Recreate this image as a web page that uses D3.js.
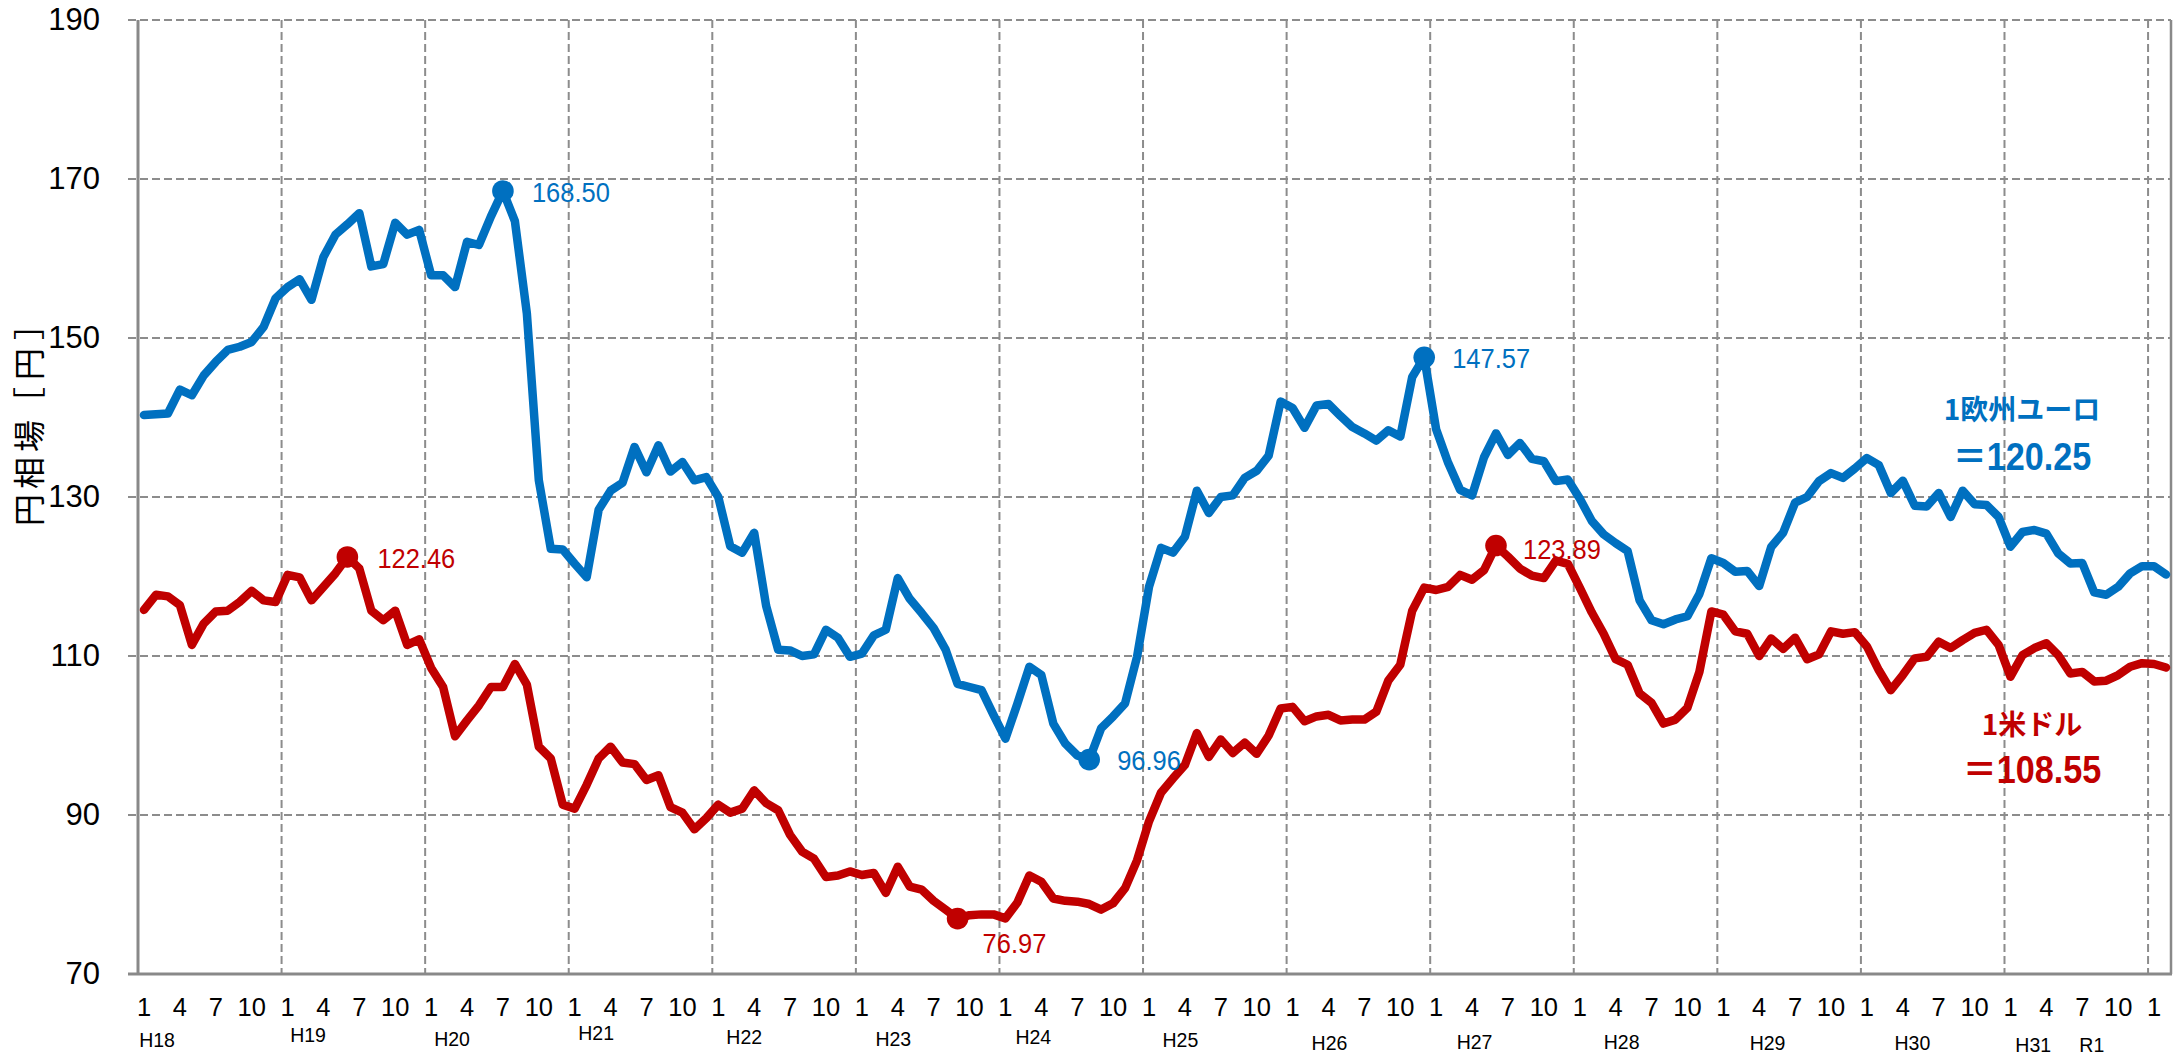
<!DOCTYPE html>
<html>
<head>
<meta charset="utf-8">
<script src="https://cdn.jsdelivr.net/npm/d3@7/dist/d3.min.js"></script>
<style>
  html, body { margin: 0; padding: 0; background: #ffffff; }
  svg { display: block; }
</style>
</head>
<body>
<svg id="chart" width="2179" height="1060"></svg>
<script>
// ---- data: monthly yen rates, Jan 2006 (H18) to Feb 2020 ----
const startYear = 2006;
const yearLabels = ["H18", "H19", "H20", "H21", "H22", "H23", "H24", "H25", "H26", "H27", "H28", "H29", "H30", "H31", "R1"];
const monthTicks = [1, 4, 7, 10];
const yTicks = [70, 90, 110, 130, 150, 170, 190];

// 1 euro in yen
const eur = [
  140.3, 140.4, 140.5, 143.5, 142.8, 145.3, 147.0, 148.5, 148.9, 149.5, 151.4, 155.0,
  156.4, 157.4, 154.8, 160.2, 163.0, 164.3, 165.7, 159.0, 159.3, 164.5, 163.0, 163.6,
  157.9, 157.9, 156.4, 162.1, 161.7, 165.3, 168.50, 164.7, 153.1, 132.1, 123.5, 123.4,
  121.6, 119.9, 128.4, 130.8, 131.8, 136.3, 133.1, 136.5, 133.2, 134.4, 132.1, 132.5,
  130.0, 123.8, 123.0, 125.5, 116.3, 110.8, 110.7, 110.0, 110.2, 113.3, 112.3, 109.9,
  110.3, 112.6, 113.3, 119.8, 117.2, 115.4, 113.5, 110.8, 106.5, 106.1, 105.7, 102.6,
  99.6, 104.0, 108.65, 107.6, 101.5, 99.0, 97.5, 96.96, 100.9, 102.4, 104.05, 109.9,
  118.7, 123.6, 123.0, 125.0, 130.8, 128.0, 130.0, 130.2, 132.4, 133.3, 135.2, 142.0,
  141.2, 138.7, 141.5, 141.7, 140.2, 138.8, 138.0, 137.1, 138.4, 137.6, 145.1, 147.57,
  138.5, 134.3, 130.9, 130.2, 135.0, 138.0, 135.3, 136.8, 134.8, 134.5, 132.0, 132.2,
  129.8, 127.0, 125.3, 124.2, 123.2, 117.0, 114.5, 114.0, 114.6, 115.0, 117.8, 122.3,
  121.7, 120.6, 120.7, 118.8, 123.7, 125.5, 129.3, 130.0, 132.0, 133.0, 132.4, 133.6,
  134.9, 134.0, 130.5, 132.05, 128.9, 128.8, 130.5, 127.5, 130.8, 129.1, 129.0, 127.5,
  123.75, 125.6, 125.85, 125.4, 122.9, 121.65, 121.7, 118.0, 117.7, 118.7, 120.4, 121.3,
  121.3, 120.25
];

// 1 US dollar in yen
const usd = [
  115.8, 117.7, 117.5, 116.4, 111.4, 114.1, 115.6, 115.7, 116.8, 118.2, 117.0, 116.8,
  120.2, 119.9, 117.0, 118.7, 120.4, 122.46, 121.0, 115.7, 114.5, 115.7, 111.4, 112.1,
  108.5, 106.1, 99.9, 101.9, 103.8, 106.1, 106.1, 109.0, 106.4, 98.6, 97.1, 91.3,
  90.8, 93.8, 97.1, 98.6, 96.6, 96.4, 94.4, 95.0, 91.0, 90.3, 88.2, 89.6,
  91.3, 90.3, 90.8, 93.1, 91.5, 90.6, 87.5, 85.4, 84.5, 82.2, 82.4, 82.9,
  82.45, 82.7, 80.2, 83.5, 81.0, 80.6, 79.2, 78.1, 76.97, 77.4, 77.5, 77.5,
  77.0, 79.0, 82.4, 81.6, 79.5, 79.2, 79.1, 78.8, 78.1, 78.9, 80.8, 84.3,
  89.2, 92.8, 94.6, 96.3, 100.3, 97.3, 99.5, 97.8, 99.1, 97.7, 100.0, 103.4,
  103.6, 101.8, 102.4, 102.6, 101.9, 102.0, 102.0, 103.0, 106.9, 108.9, 115.7, 118.6,
  118.3, 118.7, 120.2, 119.6, 120.8, 123.89, 122.5, 121.0, 120.1, 119.8, 122.0, 121.6,
  118.6, 115.5, 112.8, 109.6, 108.9, 105.3, 104.1, 101.5, 102.0, 103.5, 108.0, 115.6,
  115.2, 113.1, 112.8, 110.0, 112.2, 110.9, 112.3, 109.6, 110.2, 113.1, 112.8, 113.0,
  111.2, 108.2, 105.7, 107.6, 109.7, 109.9, 111.8, 111.0, 112.0, 112.9, 113.3, 111.4,
  107.4, 110.1, 111.0, 111.6, 110.1, 107.8, 108.0, 106.8, 106.9, 107.6, 108.65, 109.1,
  109.0, 108.55
];

// highs and lows that carry a value label
const eurNoted = [168.50, 96.96, 147.57];
const usdNoted = [122.46, 76.97, 123.89];

const eurName = "1欧州ユーロ";
const usdName = "1米ドル";
const axisTitle = "円相場［円］";

// category for each month: {year, month}
const categories = eur.map((_, i) => ({ year: startYear + Math.floor(i / 12), month: (i % 12) + 1 }));

// ---- layout ----
const W = 2179, H = 1060;
const plot = { left: 138, right: 2172, top: 20, bottom: 974 };
const blue = "#0070C0", red = "#C00000";
const gridColor = "#8c8c8c", axisColor = "#898989";
const latin = "'Liberation Sans', Arial, 'Noto Sans CJK JP', sans-serif";
const cjk = "'Noto Sans CJK JP', 'Liberation Sans', sans-serif";

const svg = d3.select("#chart");
svg.append("rect").attr("width", W).attr("height", H).attr("fill", "#ffffff");

const x = d3.scaleBand().domain(d3.range(categories.length)).range([plot.left, plot.right]).padding(0);
const bw = x.bandwidth();
const cx = i => x(i) + bw / 2;
const xc = c => plot.left + c * bw;            // continuous category position
const y = d3.scaleLinear().domain([70, 190]).range([plot.bottom, plot.top]);

// plot-area border (right side)
svg.append("line")
  .attr("x1", plot.right - 1).attr("x2", plot.right - 1)
  .attr("y1", plot.top).attr("y2", plot.bottom)
  .attr("stroke", axisColor).attr("stroke-width", 2.5);

// horizontal gridlines (with small outside stubs)
const gy = svg.append("g").attr("class", "grid-y");
gy.selectAll("line").data(yTicks.filter(v => v > 70)).join("line")
  .attr("x1", plot.left - 10).attr("x2", plot.right - 1)
  .attr("y1", d => y(d)).attr("y2", d => y(d))
  .attr("stroke", gridColor).attr("stroke-width", 2)
  .attr("stroke-dasharray", "8,4");

// vertical gridlines at each year boundary
const yearStarts = d3.range(12, categories.length, 12);
svg.append("g").attr("class", "grid-x").selectAll("line").data(yearStarts).join("line")
  .attr("x1", d => x(d)).attr("x2", d => x(d))
  .attr("y1", plot.top).attr("y2", plot.bottom)
  .attr("stroke", gridColor).attr("stroke-width", 2)
  .attr("stroke-dasharray", "8,4");

// y axis
const yAxis = svg.append("g").attr("transform", `translate(${plot.left},0)`)
  .call(d3.axisLeft(y).tickValues(yTicks).tickSize(0).tickPadding(38).tickFormat(d3.format("d")));
yAxis.select(".domain").remove();
yAxis.selectAll("text").attr("font-family", latin).attr("font-size", 31).attr("fill", "#000");
svg.append("line").attr("x1", plot.left).attr("x2", plot.left)
  .attr("y1", plot.top).attr("y2", plot.bottom + 1)
  .attr("stroke", axisColor).attr("stroke-width", 3);

// x axis: month numbers
const tickIdx = d3.range(categories.length).filter(i => monthTicks.includes(categories[i].month) && i <= 168);
const xAxis = svg.append("g").attr("transform", `translate(0,${plot.bottom})`)
  .call(d3.axisBottom(x).tickValues(tickIdx).tickSize(0).tickPadding(24)
    .tickFormat(i => categories[i].month));
xAxis.select(".domain").remove();
xAxis.selectAll("text").attr("font-family", latin).attr("font-size", 25.5).attr("fill", "#000");
svg.append("line").attr("x1", plot.left - 10).attr("x2", plot.right)
  .attr("y1", plot.bottom).attr("y2", plot.bottom)
  .attr("stroke", axisColor).attr("stroke-width", 3);

// era year labels under the month numbers
const yearLabelPos = [
  [1.59, 1040], [14.21, 1035], [26.25, 1039], [38.29, 1033], [50.67, 1037],
  [63.13, 1039], [74.83, 1037], [87.12, 1040], [99.58, 1043], [111.71, 1042],
  [124.0, 1042], [136.2, 1043], [148.3, 1043], [158.4, 1045], [163.3, 1045]
];
svg.append("g").selectAll("text").data(yearLabels).join("text")
  .attr("x", (d, k) => xc(yearLabelPos[k][0]))
  .attr("y", (d, k) => yearLabelPos[k][1] + 7)
  .attr("text-anchor", "middle")
  .attr("font-family", latin).attr("font-size", 19.5).attr("fill", "#000")
  .text(d => d);

// y axis title, rotated; each glyph set on its own slot so the brackets sit evenly
const titleSlots = [510, 473, 436, 403, 364, 324];
const title = svg.append("text")
  .attr("transform", "translate(27,0) rotate(-90)")
  .attr("text-anchor", "middle").attr("dominant-baseline", "central")
  .attr("font-family", cjk).attr("font-size", 32).attr("fill", "#000");
title.selectAll("tspan").data(Array.from(axisTitle)).join("tspan")
  .attr("x", (d, k) => -titleSlots[k]).attr("y", 0)
  .text(d => d);

// series lines
const line = d3.line().x((d, i) => cx(i)).y(d => y(d)).curve(d3.curveLinear);
[[eur, blue], [usd, red]].forEach(([vals, col]) => {
  svg.append("path").datum(vals)
    .attr("d", line)
    .attr("fill", "none").attr("stroke", col).attr("stroke-width", 8.5)
    .attr("stroke-linejoin", "round").attr("stroke-linecap", "round");
});

// markers and value labels on highs / lows
function noteMarks(vals, noted, col, offsets) {
  noted.forEach((v, k) => {
    const i = vals.indexOf(v);
    const px = cx(i), py = y(v);
    svg.append("circle").attr("cx", px).attr("cy", py).attr("r", 10.8).attr("fill", col);
    const [dx, dy] = offsets[k];
    svg.append("text")
      .attr("transform", `translate(${px + dx},${py + dy + 10}) scale(0.91,1)`)
      .attr("font-family", latin).attr("font-size", 28).attr("fill", col)
      .text(v.toFixed(2));
  });
}
noteMarks(eur, eurNoted, blue, [[29, 1], [28, 0], [28, 1]]);
noteMarks(usd, usdNoted, red, [[30, 1], [25, 24], [27, 3]]);

// series name labels with the latest value
function seriesLabel(name, vals, col, cxPos, yName, yVal) {
  svg.append("text")
    .attr("x", cxPos).attr("y", yName + 10)
    .attr("text-anchor", "middle")
    .attr("font-family", cjk).attr("font-weight", "bold").attr("font-size", 28).attr("fill", col)
    .text(name);
  svg.append("text")
    .attr("transform", `translate(${cxPos},${yVal + 14}) scale(0.9,1)`)
    .attr("text-anchor", "middle")
    .attr("font-family", latin).attr("font-weight", "bold").attr("font-size", 38).attr("fill", col)
    .text("＝" + vals[vals.length - 1].toFixed(2));
}
seriesLabel(eurName, eur, blue, 2022, 410, 456);
seriesLabel(usdName, usd, red, 2032, 725, 769);
</script>
</body>
</html>
